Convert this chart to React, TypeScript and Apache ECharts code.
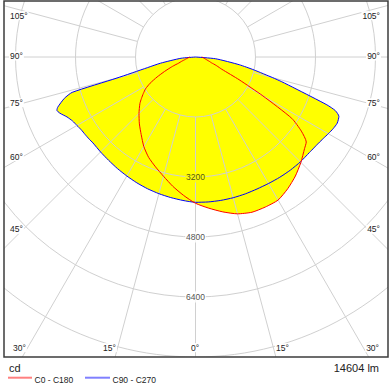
import React, { useEffect, useRef } from 'react';
import * as echarts from 'echarts';

// gamma angles (degrees from nadir)
const gammaDeg = [0, 5, 10, 15, 20, 25, 30, 35, 40, 45, 50, 52.5, 55, 57.5, 60, 62.5, 65, 67.5, 69, 70, 72.5, 74, 75, 77.5, 80, 85, 90];

// C0 - C180 plane (cd)
const c180Left = [3901, 3701, 3499, 3293, 3118, 2955, 2757, 2525, 2328, 2131, 1936, 1818, 1699, 1579, 1397, 1155, 909, 688, 560, 475, 395, 347, 314, 275, 235, 185, 147];
const c0Right = [3901, 4046, 4194, 4330, 4405, 4413, 4405, 4288, 4144, 3974, 3797, 3723, 3445, 3043, 2075, 1309, 776, 613, 517, 453, 387, 347, 323, 285, 251, 208, 165];

// C90 - C270 plane (cd)
const c270Left = [3875, 3840, 3806, 3773, 3739, 3702, 3664, 3631, 3600, 3581, 3568, 3584, 3597, 3613, 3651, 3696, 3781, 3915, 3960, 3909, 3667, 3421, 2168, 1315, 941, 387, 0];
const c90Right = [3875, 3880, 3883, 3885, 3884, 3883, 3895, 3916, 3937, 3955, 3965, 3981, 4005, 4042, 4090, 4139, 4171, 4139, 3997, 3728, 2781, 2392, 2133, 1602, 1184, 539, 0];

const radiusLabels = [3200, 4800, 6400];
const sideAngleLabels = ['105°', '90°', '75°', '60°', '45°'];
const bottomAngleLabels = ['30°', '15°', '0°', '15°', '30°'];
const seriesNames = ['C0 - C180', 'C90 - C270'];
const unitText = 'cd';
const fluxText = '14604 lm';

// layout
const CX = 195.5;
const CY = 57;
const R = 300; // px for 8000 cd
const sideLabelY = [15.7, 56, 102.7, 156.7, 229.3];
const bottomLabelX = [12, 109.5, 195, 282.5, 380];
const bottomLabelAlign = ['left', 'center', 'center', 'center', 'right'];
const FONT = '"Liberation Sans", Arial, sans-serif';
const SMOOTH = 0.2;

function buildPlane(left: number[], right: number[]) {
  const pts: number[][] = [];
  for (let i = gammaDeg.length - 1; i >= 0; i--) pts.push([left[i], -gammaDeg[i]]);
  for (let i = 0; i < gammaDeg.length; i++) pts.push([right[i], gammaDeg[i]]);
  return pts;
}

export default function App() {
  const ref = useRef<HTMLDivElement>(null);
  useEffect(() => {
    if (!ref.current) return;
    const chart = echarts.init(ref.current, undefined, { renderer: 'svg' });
    const planeC0 = buildPlane(c180Left, c0Right);
    const planeC90 = buildPlane(c270Left, c90Right);
    const txt = (text: string, x: number, y: number, align: string, size = 8.5, bg: string | undefined = '#fff') => ({
      type: 'text', x, y, z: 102, silent: true,
      style: { text, font: `${size}px ${FONT}`, fill: '#222', align, verticalAlign: 'middle', backgroundColor: bg, padding: [0, 1] },
    });
    const elements: any[] = [
      { type: 'rect', z: 100, silent: true, shape: { x: 0, y: 0, width: 392, height: 1 }, style: { fill: '#fff' } },
      { type: 'rect', z: 100, silent: true, shape: { x: 0, y: 0, width: 4, height: 390 }, style: { fill: '#fff' } },
      { type: 'rect', z: 100, silent: true, shape: { x: 388, y: 0, width: 4, height: 390 }, style: { fill: '#fff' } },
      { type: 'rect', z: 100, silent: true, shape: { x: 0, y: 357, width: 392, height: 33 }, style: { fill: '#fff' } },
      { type: 'rect', z: 101, silent: true, shape: { x: 4, y: 1, width: 384, height: 356 }, style: { fill: 'none', stroke: '#3c3c3c', lineWidth: 1.5 } },
    ];
    sideAngleLabels.forEach((t, i) => {
      elements.push(txt(t, 9, sideLabelY[i], 'left'));
      elements.push(txt(t, 381, sideLabelY[i], 'right'));
    });
    bottomAngleLabels.forEach((t, i) => {
      elements.push(txt(t, bottomLabelX[i], 347.7, bottomLabelAlign[i]));
    });
    elements.push(txt(unitText, 8, 368, 'left', 11, undefined));
    elements.push(txt(fluxText, 380, 368, 'right', 11, undefined));
    // legend
    elements.push({ type: 'line', z: 102, silent: true, shape: { x1: 8, y1: 377.7, x2: 32, y2: 377.7 }, style: { stroke: '#ff8080', lineWidth: 2 } });
    elements.push(txt(seriesNames[0], 33.5, 379.5, 'left', 8.5, undefined));
    elements.push({ type: 'line', z: 102, silent: true, shape: { x1: 85, y1: 377.7, x2: 110, y2: 377.7 }, style: { stroke: '#8080ff', lineWidth: 2 } });
    elements.push(txt(seriesNames[1], 111.5, 379.5, 'left', 8.5, undefined));

    const gridColor = '#d0d0d0';
    chart.setOption({
      animation: false,
      backgroundColor: '#fff',
      polar: [
        { center: [CX, CY], radius: R },
        { center: [CX, CY], radius: [60, 390] },
      ],
      angleAxis: [
        { polarIndex: 0, type: 'value', min: -180, max: 180, startAngle: 90, clockwise: false, show: false },
        {
          polarIndex: 1, type: 'value', min: 0, max: 360, interval: 15, startAngle: 90, z: 3,
          axisLine: { show: false }, axisTick: { show: false }, axisLabel: { show: false },
          splitLine: { show: true, lineStyle: { color: gridColor, width: 1 } },
        },
      ],
      radiusAxis: [
        { polarIndex: 0, type: 'value', min: 0, max: 8000, show: false },
        {
          polarIndex: 1, type: 'value', min: 1600, max: 10400, interval: 1600, z: 3,
          axisLine: { show: false }, axisTick: { show: false }, axisLabel: { show: false },
          splitLine: { show: true, lineStyle: { color: gridColor, width: 1 } },
        },
      ],
      series: [
        { type: 'line', name: 'fillC90', coordinateSystem: 'polar', polarIndex: 0, data: planeC90, symbol: 'none', smooth: SMOOTH, z: 1, silent: true, lineStyle: { width: 0 }, areaStyle: { color: '#ffff00', opacity: 1 } },
        { type: 'line', name: 'fillC0', coordinateSystem: 'polar', polarIndex: 0, data: planeC0, symbol: 'none', smooth: SMOOTH, z: 1, silent: true, lineStyle: { width: 0 }, areaStyle: { color: '#ffff00', opacity: 1 } },
        { type: 'line', name: seriesNames[1], coordinateSystem: 'polar', polarIndex: 0, data: planeC90, symbol: 'none', smooth: SMOOTH, z: 5, silent: true, lineStyle: { color: '#0000ff', width: 1 } },
        { type: 'line', name: seriesNames[0], coordinateSystem: 'polar', polarIndex: 0, data: planeC0, symbol: 'none', smooth: SMOOTH, z: 6, silent: true, lineStyle: { color: '#ff0000', width: 1 } },
        {
          type: 'scatter', name: 'labels', coordinateSystem: 'polar', polarIndex: 0, z: 7, silent: true,
          symbolSize: 1, itemStyle: { color: 'rgba(0,0,0,0)' },
          data: radiusLabels.map((v) => ({ value: [v, 0], label: { backgroundColor: v === radiusLabels[0] ? '#ffff00' : '#fff' } })),
          label: {
            show: true, position: 'inside', color: '#222', fontSize: 8.5, fontFamily: FONT, padding: [1, 1],
            formatter: (p: any) => String(p.value[0]),
          },
        },
      ],
      graphic: { elements },
    });
    return () => chart.dispose();
  }, []);
  return <div ref={ref} style={{ position: 'absolute', left: 0, top: 0, width: 392, height: 390 }} />;
}
